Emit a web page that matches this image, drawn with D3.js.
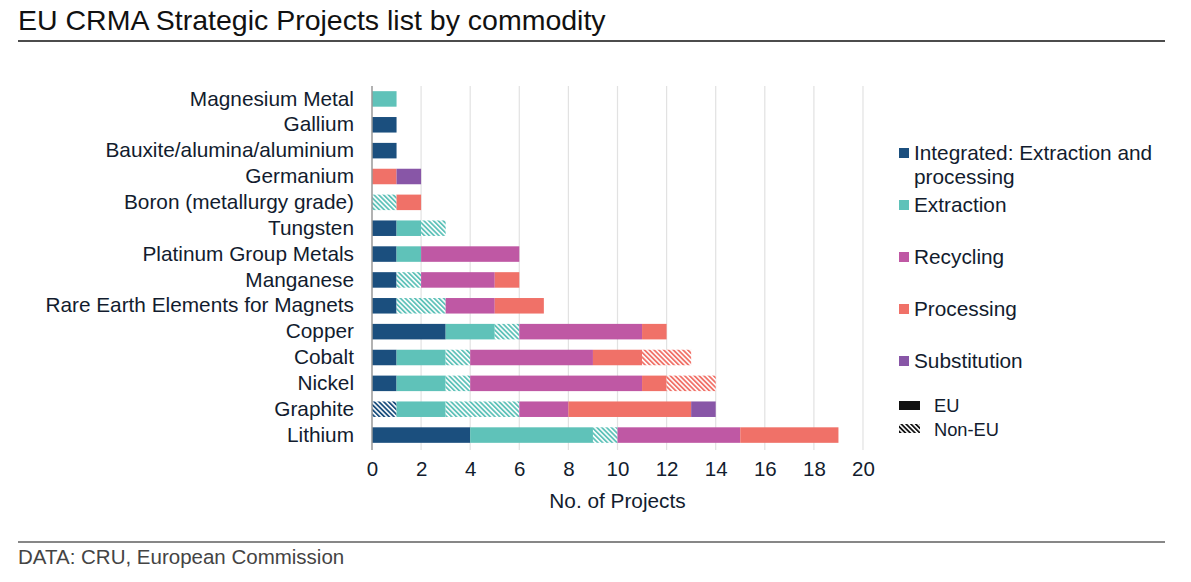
<!DOCTYPE html>
<html><head><meta charset="utf-8">
<script src="https://cdn.jsdelivr.net/npm/d3@7"></script>
<style>
body{margin:0;background:#fff;}
svg{font-family:"Liberation Sans",Arial,sans-serif;}
</style></head>
<body>
<svg id="chart" width="1191" height="582"></svg>
<script>
const categories = ["Magnesium Metal","Gallium","Bauxite/alumina/aluminium","Germanium","Boron (metallurgy grade)","Tungsten","Platinum Group Metals","Manganese","Rare Earth Elements for Magnets","Copper","Cobalt","Nickel","Graphite","Lithium"];
const integratedEU    = [0,1,1,0,0,1,1,1,1,3,1,1,0,4];
const integratedNonEU = [0,0,0,0,0,0,0,0,0,0,0,0,1,0];
const extractionEU    = [1,0,0,0,0,1,1,0,0,2,2,2,2,5];
const extractionNonEU = [0,0,0,0,1,1,0,1,2,1,1,1,3,1];
const recycling       = [0,0,0,0,0,0,4,3,2,5,5,7,2,5];
const processingEU    = [0,0,0,1,1,0,0,1,2,1,2,1,5,4];
const processingNonEU = [0,0,0,0,0,0,0,0,0,0,2,2,0,0];
const substitution    = [0,0,0,1,0,0,0,0,0,0,0,0,1,0];
const xTicks = [0,2,4,6,8,10,12,14,16,18,20];
const legendLabels = ["Integrated: Extraction and processing","Extraction","Recycling","Processing","Substitution"];

const colors = {integrated:"#1b4f7e", extraction:"#5fc2b9", recycling:"#bf58a4", processing:"#f07168", substitution:"#8856a7"};
const series = [
  {key:"intEU", vals:integratedEU, type:"integrated", hatch:false},
  {key:"intNon", vals:integratedNonEU, type:"integrated", hatch:true},
  {key:"extEU", vals:extractionEU, type:"extraction", hatch:false},
  {key:"extNon", vals:extractionNonEU, type:"extraction", hatch:true},
  {key:"rec", vals:recycling, type:"recycling", hatch:false},
  {key:"procEU", vals:processingEU, type:"processing", hatch:false},
  {key:"procNon", vals:processingNonEU, type:"processing", hatch:true},
  {key:"sub", vals:substitution, type:"substitution", hatch:false}
];
const textCol = "#121c2e";

const svg = d3.select("#chart");
const defs = svg.append("defs");
function hatchId(c){return "hatch-"+c.replace("#","");}
const hatchColors = Object.values(colors).concat(["#111111"]);
hatchColors.forEach(c=>{
  const p = defs.append("pattern").attr("id",hatchId(c)).attr("patternUnits","userSpaceOnUse")
    .attr("width",3.4).attr("height",3.4).attr("patternTransform","rotate(-45)");
  p.append("rect").attr("width",3.4).attr("height",3.4).attr("fill","#fff");
  p.append("rect").attr("width",1.8).attr("height",3.4).attr("fill",c);
});

// Title
svg.append("text").attr("x",18).attr("y",30).attr("font-size",28.5).attr("fill","#111").text("EU CRMA Strategic Projects list by commodity");
svg.append("line").attr("x1",18).attr("x2",1165).attr("y1",41).attr("y2",41).attr("stroke","#111").attr("stroke-width",1.5);
svg.append("line").attr("x1",18).attr("x2",1165).attr("y1",542).attr("y2",542).attr("stroke","#111").attr("stroke-width",1.2);
svg.append("text").attr("x",18).attr("y",564).attr("font-size",20.5).attr("fill","#444").text("DATA: CRU, European Commission");

const x = d3.scaleLinear().domain([0,20]).range([372,863]);
const y = d3.scaleBand().domain(categories).range([86,448]).paddingInner(0.4).paddingOuter(0.2);

// gridlines
svg.append("g").selectAll("line").data(xTicks.filter(t=>t>0)).join("line")
  .attr("x1",d=>x(d)).attr("x2",d=>x(d)).attr("y1",86).attr("y2",450)
  .attr("stroke","#e2e2e2").attr("stroke-width",1.2);

// stacked bars
const stackData = categories.map((c,i)=>{const o={cat:c}; series.forEach(s=>o[s.key]=s.vals[i]); return o;});
const stacked = d3.stack().keys(series.map(s=>s.key))(stackData);
const barG = svg.append("g");
stacked.forEach((layer,li)=>{
  const s = series[li];
  const col = colors[s.type];
  barG.append("g").selectAll("rect").data(layer.filter(d=>d[1]-d[0]>0)).join("rect")
    .attr("x",d=>x(d[0])).attr("width",d=>x(d[1])-x(d[0]))
    .attr("y",d=>y(d.data.cat)).attr("height",y.bandwidth())
    .attr("fill", s.hatch ? `url(#${hatchId(col)})` : col);
});

// y axis
const yAxis = svg.append("g").attr("transform","translate(372,0)").call(d3.axisLeft(y).tickSize(0).tickPadding(18));
yAxis.select(".domain").attr("stroke","#999").attr("stroke-width",1.5).attr("d","M0,86V450");
yAxis.selectAll("text").attr("font-size",20.8).attr("fill",textCol).attr("font-family","Liberation Sans, Arial, sans-serif");

// x axis
const xAxis = svg.append("g").attr("transform","translate(0,450)").call(d3.axisBottom(x).tickValues(xTicks).tickSize(0).tickPadding(11).tickFormat(d3.format("d")));
xAxis.select(".domain").remove();
xAxis.selectAll("text").attr("font-size",20.5).attr("fill",textCol).attr("font-family","Liberation Sans, Arial, sans-serif");
svg.append("text").attr("x",x(10)).attr("y",508).attr("text-anchor","middle").attr("font-size",20.8).attr("fill",textCol).text("No. of Projects");

// legend
const lg = svg.append("g");
const legendColors = [colors.integrated,colors.extraction,colors.recycling,colors.processing,colors.substitution];
const legendY = [153,205,257,309,361];
legendLabels.forEach((l,i)=>{
  lg.append("rect").attr("x",899).attr("y",legendY[i]-5).attr("width",10).attr("height",10).attr("fill",legendColors[i]);
  const t = lg.append("text").attr("x",914).attr("y",legendY[i]+7).attr("font-size",20.8).attr("fill",textCol);
  if(i===0){
    t.append("tspan").attr("x",914).text("Integrated: Extraction and");
    t.append("tspan").attr("x",914).attr("dy",24).text("processing");
  } else t.text(l);
});
lg.append("rect").attr("x",899).attr("y",401).attr("width",21).attr("height",9).attr("fill","#111");
lg.append("text").attr("x",934).attr("y",412).attr("font-size",18.3).attr("fill",textCol).text("EU");
lg.append("rect").attr("x",899).attr("y",424).attr("width",21).attr("height",9).attr("fill",`url(#${hatchId("#111111")})`);
lg.append("text").attr("x",934).attr("y",436).attr("font-size",18.3).attr("fill",textCol).text("Non-EU");
</script>
</body></html>
